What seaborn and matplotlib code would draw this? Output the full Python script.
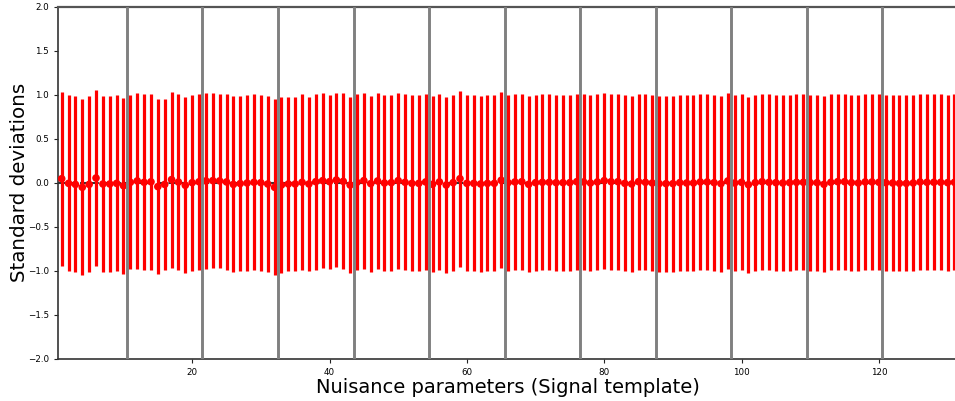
import numpy as np
import pandas as pd
import seaborn as sns
import matplotlib
matplotlib.use("Agg")
import matplotlib.pyplot as plt

# pull values (central)
pulls = [
    0.045, -0.008, -0.020, -0.053, -0.020, 0.053, -0.015, -0.015, -0.008, -0.035, 0.004,
    0.020, 0.004, 0.010, -0.045, -0.020, 0.035, 0.007, -0.030, 0.000, 0.010, 0.020,
    0.023, 0.020, 0.008, -0.020, -0.010, -0.004, 0.004, 0.000, -0.015, -0.053, -0.027,
    -0.015, -0.015, 0.004, -0.015, 0.011, 0.023, 0.011, 0.030, 0.015, -0.027, 0.004,
    0.023, -0.011, 0.019, -0.004, 0.000, 0.023, 0.004, -0.008, -0.008, 0.008, -0.019,
    0.008, -0.027, 0.000, 0.045, -0.008, -0.008, -0.015, -0.008, -0.008, 0.027, 0.000,
    0.008, 0.011, -0.019, 0.000, 0.004, 0.004, 0.000, 0.000, 0.000, 0.011, 0.008,
    -0.004, 0.008, 0.023, 0.011, 0.011, -0.008, -0.015, 0.011, 0.004, -0.004, -0.011,
    -0.011, -0.011, 0.000, -0.004, -0.004, 0.008, 0.008, 0.000, -0.011, 0.019, -0.004,
    0.004, -0.023, 0.000, 0.011, 0.004, 0.000, -0.004, 0.000, 0.004, 0.004, 0.000,
    0.000, -0.019, 0.004, 0.011, 0.011, 0.000, -0.004, 0.008, 0.008, 0.004, 0.000,
    -0.004, -0.008, -0.008, -0.004, 0.008, 0.004, 0.004, 0.004, 0.000, 0.004,
]
errors = [
    0.99, 1.00, 1.00, 1.00, 1.00, 1.00, 1.00, 1.00, 1.00, 1.00, 0.99,
    1.00, 1.00, 1.00, 0.99, 0.97, 1.00, 1.00, 1.00, 1.00, 1.00, 1.00,
    0.99, 0.99, 1.00, 1.00, 0.99, 1.00, 1.00, 1.00, 1.00, 1.00, 1.00,
    0.99, 0.99, 1.00, 0.99, 1.00, 0.99, 0.99, 0.99, 1.00, 1.00, 1.00,
    1.00, 1.00, 1.00, 1.00, 1.00, 1.00, 1.00, 1.00, 1.00, 1.00, 1.00,
    1.00, 1.00, 1.00, 1.00, 1.00, 1.00, 1.00, 1.00, 1.00, 1.00, 1.00,
    1.00, 1.00, 1.00, 1.00, 1.00, 1.00, 1.00, 1.00, 1.00, 1.00, 1.00,
    1.00, 1.00, 1.00, 1.00, 1.00, 1.00, 1.00, 1.00, 1.00, 1.00, 1.00,
    1.00, 1.00, 1.00, 1.00, 1.00, 1.00, 1.00, 1.00, 1.00, 1.00, 1.00,
    1.00, 1.00, 1.00, 1.00, 1.00, 1.00, 1.00, 1.00, 1.00, 1.00, 1.00,
    1.00, 1.00, 1.00, 1.00, 1.00, 1.00, 1.00, 1.00, 1.00, 1.00, 1.00,
    1.00, 1.00, 1.00, 1.00, 1.00, 1.00, 1.00, 1.00, 1.00, 1.00,
]
group_edges = [10.5, 21.5, 32.5, 43.5, 54.5, 65.5, 76.5, 87.5, 98.5, 109.5, 120.5]
x_ticks = [20, 40, 60, 80, 100, 120]
y_ticks = [-2.0, -1.5, -1.0, -0.5, 0.0, 0.5, 1.0, 1.5, 2.0]

df = pd.DataFrame({"param": np.arange(1, len(pulls) + 1), "pull": pulls, "err": errors})

sns.set_style("ticks")
fig = plt.figure(figsize=(9.55, 4.01), dpi=100)
ax = fig.add_axes([0.061, 0.1055, 0.942, 0.878])

ax.axhline(0, color="#333333", ls="--", lw=1.5, zorder=1)
ax.errorbar(df["param"], df["pull"], yerr=df["err"], fmt="none",
            ecolor="red", elinewidth=2.3, capsize=0, zorder=2)
sns.scatterplot(data=df, x="param", y="pull", ax=ax, color="red",
                s=30, edgecolor="none", zorder=3, legend=False)
for e in group_edges:
    ax.axvline(e, color="gray", lw=2.1, zorder=4)

ax.set_xlim(0.5, 131.5)
ax.set_ylim(-2, 2)
ax.set_xticks(x_ticks)
ax.set_yticks(y_ticks)
ax.tick_params(labelsize=6.3, length=3, width=0.8, colors="#222222", labelcolor="black")
ax.set_xlabel("Nuisance parameters (Signal template)", fontsize=14, labelpad=1, color="black")
ax.set_ylabel("Standard deviations", fontsize=14.3, labelpad=-1, color="black")
for s in ["left", "bottom"]:
    ax.spines[s].set_color("#333333")
    ax.spines[s].set_linewidth(1.2)
ax.spines["top"].set_color("#555555")
ax.spines["top"].set_linewidth(1.6)
ax.spines["right"].set_visible(False)

fig.savefig("out.png", dpi=100)
